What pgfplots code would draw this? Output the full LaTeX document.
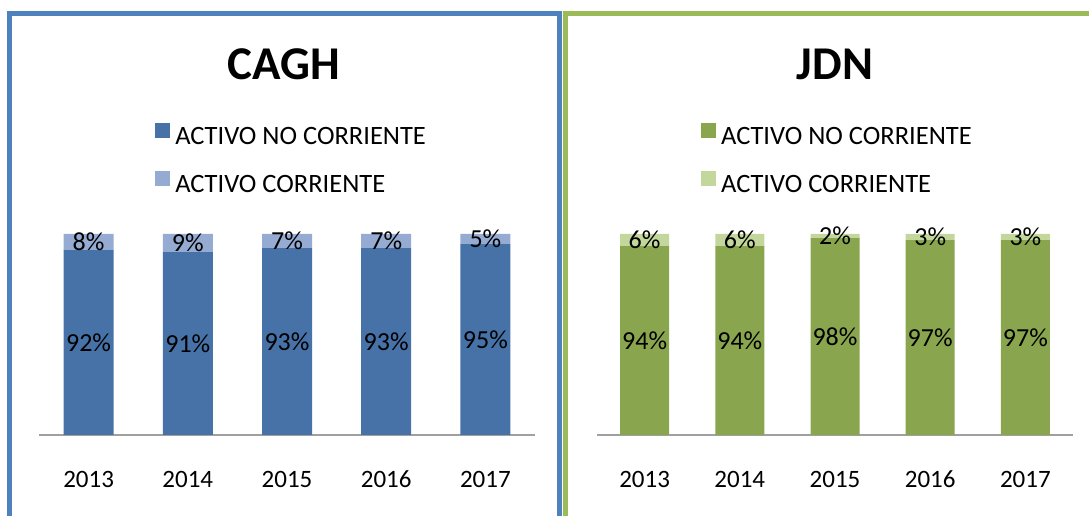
\documentclass[border=0pt]{standalone}
\usepackage{fontspec}
\setmainfont{Carlito}
\usepackage{pgfplots}
\pgfplotsset{compat=1.18}
\definecolor{bdark}{RGB}{70,114,168}
\definecolor{blight}{RGB}{150,171,209}
\definecolor{gdark}{RGB}{137,165,78}
\definecolor{glight}{RGB}{195,214,155}
\definecolor{bborder}{RGB}{79,129,189}
\definecolor{gborder}{RGB}{155,187,89}
\definecolor{axgray}{RGB}{160,160,160}
\pgfplotsset{
  panel/.style={
    ybar stacked, scale only axis, height=201pt,
    ymin=0, ymax=100, xmin=-0.5, xmax=4.5,
    axis y line=none, axis x line=bottom,
    axis line style={-, draw=axgray, line width=1.5pt},
    xtick={0,1,2,3,4}, xticklabels={2013,2014,2015,2016,2017},
    xtick style={draw=none},
    xticklabel style={anchor=center, yshift=-42pt, font=\fontsize{25}{30}\selectfont},
    /pgf/number format/assume math mode=true,
    point meta=rawy,
    nodes near coords={\pgfmathprintnumber{\pgfplotspointmeta}\%},
    nodes near coords style={anchor=center,
      font=\fontsize{26}{30}\selectfont, text=black},
    legend style={draw=none, fill=none, font=\fontsize{26.5}{30}\selectfont,
      legend cell align=left, row sep=23pt,
      /tikz/every even column/.append style={column sep=0pt}},
    legend image code/.code={\fill[##1] (0pt,-1pt) rectangle (15pt,14pt); \path (18pt,0pt);},
  }
}
\begin{document}
\begin{tikzpicture}[x=1pt,y=1pt]
\useasboundingbox (0,0) rectangle (1089,516);
\begin{scope}
\clip (0,0) rectangle (1089,516);
\draw[line width=5pt, bborder] (9.5,-10) -- (9.5,502.5) -- (559.5,502.5) -- (559.5,-10);
\draw[line width=5pt, gborder] (565.5,-10) -- (565.5,502.5) -- (1100,502.5);
\end{scope}
\node[font=\bfseries\fontsize{47}{52}\selectfont] at (284,452) {CAGH};
\node[font=\bfseries\fontsize{47}{52}\selectfont] at (835,452) {JDN};

\begin{axis}[panel, at={(39pt,81pt)}, anchor=south west, width=496pt, bar width=50pt,
  legend style={at={(axis description cs:0.228,1.565)}, anchor=north west}]
\addplot[fill=bdark, draw=none] coordinates {(0,92) (1,91) (2,93) (3,93) (4,95)};
\addplot[fill=blight, draw=none] coordinates {(0,8) (1,9) (2,7) (3,7) (4,5)};
\legend{ACTIVO NO CORRIENTE, ACTIVO CORRIENTE}
\end{axis}

\begin{axis}[panel, at={(597pt,81pt)}, anchor=south west, width=476pt, bar width=49pt,
  legend style={at={(axis description cs:0.212,1.565)}, anchor=north west}]
\addplot[fill=gdark, draw=none] coordinates {(0,94) (1,94) (2,98) (3,97) (4,97)};
\addplot[fill=glight, draw=none] coordinates {(0,6) (1,6) (2,2) (3,3) (4,3)};
\legend{ACTIVO NO CORRIENTE, ACTIVO CORRIENTE}
\end{axis}
\end{tikzpicture}
\end{document}
